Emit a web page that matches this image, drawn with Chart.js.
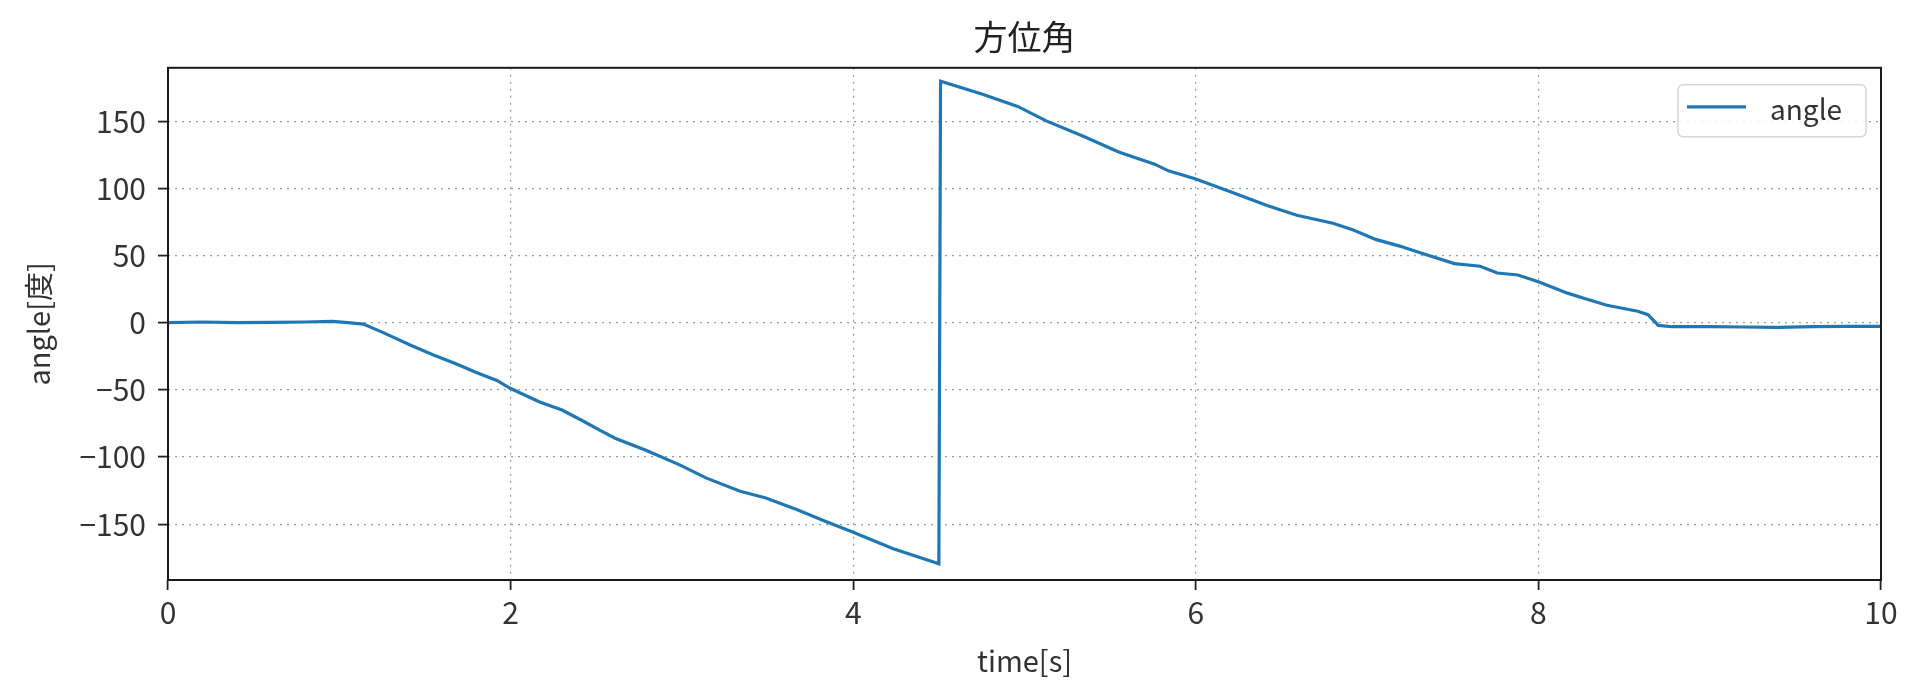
<!DOCTYPE html>
<html>
<head>
<meta charset="utf-8">
<script src="https://cdn.jsdelivr.net/npm/chart.js@4/dist/chart.umd.min.js"></script>
<style>
html,body{margin:0;padding:0;background:#fff;}
#wrap{width:1920px;height:693px;position:relative;}
</style>
</head>
<body>
<div id="wrap"><canvas id="c"></canvas></div>
<script>
const titleText = '方位角';
const xTitle = 'time[s]';
const yTitle = 'angle[度]';
const seriesLabel = 'angle';
const xTicks = [0, 2, 4, 6, 8, 10];
const yTicks = [-150, -100, -50, 0, 50, 100, 150];
const times = [0, 0.2, 0.4, 0.6, 0.8, 0.96, 1.05, 1.14, 1.25, 1.42, 1.55, 1.67, 1.8, 1.92, 2.0,
  2.17, 2.3, 2.42, 2.52, 2.61, 2.79, 2.99, 3.14, 3.34, 3.49, 3.67, 3.84, 4.0, 4.23, 4.5,
  4.51, 4.755, 4.96, 5.13, 5.34, 5.55, 5.76, 5.84, 6.0, 6.21, 6.42, 6.59, 6.8, 6.92, 7.05,
  7.19, 7.31, 7.51, 7.66, 7.76, 7.88, 8.0, 8.17, 8.27, 8.4, 8.58, 8.64, 8.7, 8.78, 9.0,
  9.2, 9.4, 9.6, 9.8, 10.0];
const angles = [0, 0.5, 0, 0.3, 0.5, 1, 0, -1, -7, -17, -24, -30, -37, -43, -49,
  -59, -65, -73, -80, -86, -95, -106, -115.5, -125.5, -130.5, -139, -148, -156, -168, -179.5,
  179.8, 170, 161, 150, 139, 127, 118, 113, 107, 97, 87, 80, 74, 69, 62,
  57, 52, 44, 42, 37, 35.5, 30.5, 22, 18, 13, 8.5, 6, -2, -3, -3,
  -3.2, -3.5, -3, -2.8, -2.8];

const FONT = '"Noto Sans CJK JP", "Noto Sans", sans-serif';
const fmt = v => (v < 0 ? '\u2212' + Math.abs(v) : String(v));

const framePlugin = {
  id: 'frame',
  afterDatasetsDraw(chart) {
    const {ctx, chartArea: a} = chart;
    ctx.save();
    ctx.strokeStyle = '#1a1a1a';
    ctx.lineWidth = 2;
    ctx.strokeRect(a.left, a.top, a.right - a.left, a.bottom - a.top);
    ctx.restore();
  },
  afterDraw(chart) {
    const {ctx, chartArea: a} = chart;
    const ds = chart.data.datasets[0];
    const bx = a.right - 203, by = a.top + 17, bw = 188, bh = 52;
    ctx.save();
    ctx.beginPath();
    ctx.roundRect(bx, by, bw, bh, 5);
    ctx.fillStyle = 'rgba(255,255,255,0.85)';
    ctx.fill();
    ctx.strokeStyle = '#d6d6d6';
    ctx.lineWidth = 1.5;
    ctx.stroke();
    ctx.beginPath();
    ctx.moveTo(bx + 9, by + 22);
    ctx.lineTo(bx + 68, by + 22);
    ctx.strokeStyle = ds.borderColor;
    ctx.lineWidth = ds.borderWidth;
    ctx.stroke();
    ctx.fillStyle = '#333';
    ctx.font = '28px ' + FONT;
    ctx.textBaseline = 'middle';
    ctx.textAlign = 'left';
    ctx.fillText(ds.label, bx + 92, by + 25);
    ctx.restore();
  }
};

new Chart(document.getElementById('c'), {
  type: 'line',
  data: {
    datasets: [{
      label: seriesLabel,
      data: times.map((t, i) => ({x: t, y: angles[i]})),
      borderColor: '#1f77b4',
      borderWidth: 3.2,
      pointRadius: 0,
      tension: 0,
      fill: false
    }]
  },
  options: {
    responsive: true,
    maintainAspectRatio: false,
    animation: false,
    devicePixelRatio: 1,
    layout: {padding: {left: 0, right: 39, top: 0, bottom: 0}},
    plugins: {
      legend: {display: false},
      tooltip: {enabled: false},
      title: {
        display: true,
        fullSize: false,
        text: titleText,
        color: '#222',
        font: {family: FONT, size: 34, weight: 'normal'},
        padding: {top: 17, bottom: 10}
      }
    },
    scales: {
      x: {
        type: 'linear',
        min: 0, max: 10,
        afterBuildTicks: s => { s.ticks = xTicks.map(v => ({value: v})); },
        afterFit: s => { s.height = 113; },
        ticks: {
          color: '#333', padding: 5, maxRotation: 0,
          font: {family: FONT, size: 30},
          callback: v => fmt(v)
        },
        grid: {color: '#9a9a9a', lineWidth: 1.2, tickLength: 10, tickColor: '#222', tickWidth: 1.8},
        border: {display: false, dash: [2, 5]},
        title: {display: true, text: xTitle, color: '#333', font: {family: FONT, size: 29}, padding: {top: 0, bottom: 15}}
      },
      y: {
        type: 'linear',
        min: -191.5, max: 189.7,
        afterBuildTicks: s => { s.ticks = yTicks.map(v => ({value: v})); },
        afterFit: s => { s.width = 168; },
        ticks: {
          color: '#333', padding: 12,
          font: {family: FONT, size: 30},
          callback: v => fmt(v)
        },
        grid: {color: '#9a9a9a', lineWidth: 1.2, tickLength: 10, tickColor: '#222', tickWidth: 1.8},
        border: {display: false, dash: [2, 5]},
        title: {display: true, text: yTitle, color: '#333', font: {family: FONT, size: 29}, padding: {top: 22, bottom: 0}}
      }
    }
  },
  plugins: [framePlugin]
});
</script>
</body>
</html>
